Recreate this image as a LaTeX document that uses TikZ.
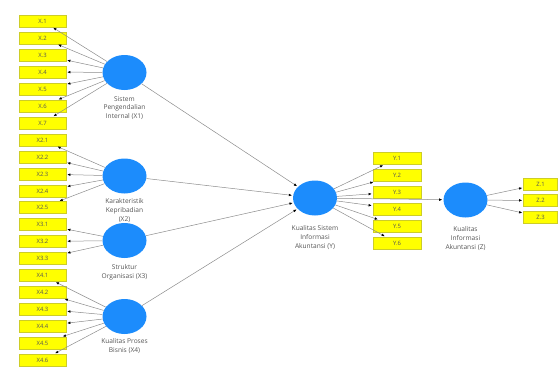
\documentclass[tikz,border=0pt]{standalone}
\usepackage{fontspec}
\setmainfont{Open Sans}
\usetikzlibrary{shapes,arrows,arrows.meta,positioning}

\definecolor{lvblue}{RGB}{28,140,252}
\definecolor{indyellow}{RGB}{255,255,0}
\definecolor{indedge}{RGB}{205,205,40}
\definecolor{txtgray}{RGB}{85,85,85}

\begin{document}
\begin{tikzpicture}[x=1pt, y=-1pt,
	lv/.style={ellipse, fill=lvblue, minimum width=44pt, minimum height=35pt, inner sep=0pt},
	ind/.style={rectangle, fill=indyellow, draw=indedge, line width=0.4pt, minimum width=47pt, minimum height=12pt, inner sep=0pt, text=txtgray, font=\fontsize{5.9}{6}\selectfont},
	lbl/.style={align=center, inner sep=1pt, text=txtgray, font=\fontsize{6.6}{8.6}\selectfont},
	conn/.style={draw=black!45, line width=0.5pt, -{Latex[length=3.2pt,width=2.6pt,color=black]}, shorten >=1pt}]
					\useasboundingbox (0,0) rectangle (558,367);
					
					% Latent variables
					\node[lv] (x1) at (124.5,72.5) {};
					\node[lv] (x2) at (124.5,176) {};
					\node[lv] (x3) at (124.5,240.5) {};
					\node[lv] (x4) at (124.5,316.5) {};
					\node[lv] (y) at (315,198) {};
					\node[lv] (z) at (465.5,200) {};
					
					% Latent variable names
					\node[lbl, below=5pt of x1] (x1name) {Sistem\\Pengendalian\\Internal (X1)};
					\node[lbl, below=4pt of x2] (x2name) {Karakteristik\\Kepribadian\\(X2)};
					\node[lbl, below=5pt of x3] (x3name) {Struktur\\Organisasi (X3)};
					\node[lbl, below=3pt of x4] (x4name) {Kualitas Proses\\Bisnis (X4)};
					\node[lbl, below=9pt of y] (yname) {Kualitas Sistem\\Informasi\\Akuntansi (Y)};
					\node[lbl, below=8pt of z] (zname) {Kualitas\\Informasi\\Akuntansi (Z)};
					
					% Indicators X1
					\node[ind] (x11) at (42.5,21) {X.1};
					\node[ind] (x12) at (42.5,38) {X.2};
					\node[ind] (x13) at (42.5,55) {X.3};
					\node[ind] (x14) at (42.5,72) {X.4};
					\node[ind] (x15) at (42.5,89) {X.5};
					\node[ind] (x16) at (42.5,106) {X.6};
					\node[ind] (x17) at (42.5,123) {X.7};
					
					% Indicators X2
					\node[ind] (x21) at (42.5,140) {X2.1};
					\node[ind] (x22) at (42.5,157) {X2.2};
					\node[ind] (x23) at (42.5,174) {X2.3};
					\node[ind] (x24) at (42.5,191) {X2.4};
					\node[ind] (x25) at (42.5,207.5) {X2.5};
					
					% Indicators X3
					\node[ind] (x31) at (42.5,224.5) {X3.1};
					\node[ind] (x32) at (42.5,241.5) {X3.2};
					\node[ind] (x33) at (42.5,258.5) {X3.3};
					
					% Indicators X4
					\node[ind] (x41) at (42.5,275.5) {X4.1};
					\node[ind] (x42) at (42.5,292.5) {X4.2};
					\node[ind] (x43) at (42.5,309) {X4.3};
					\node[ind] (x44) at (42.5,326) {X4.4};
					\node[ind] (x45) at (42.5,343) {X4.5};
					\node[ind] (x46) at (42.5,360) {X4.6};
					
					% Indicators Y
					\node[ind, minimum width=48pt] (y1) at (397,158.5) {Y.1};
					\node[ind, minimum width=48pt] (y2) at (397,175.5) {Y.2};
					\node[ind, minimum width=48pt] (y3) at (397,192) {Y.3};
					\node[ind, minimum width=48pt] (y4) at (397,209) {Y.4};
					\node[ind, minimum width=48pt] (y5) at (397,226) {Y.5};
					\node[ind, minimum width=48pt] (y6) at (397,243) {Y.6};
					
					% Indicators Z
					\node[ind, minimum width=34pt] (z1) at (540.5,184) {Z.1};
					\node[ind, minimum width=34pt] (z2) at (540.5,200.5) {Z.2};
					\node[ind, minimum width=34pt] (z3) at (540.5,217) {Z.3};
					
					% Loadings
					\draw[conn] (x1) -- (x11);
					\draw[conn] (x1) -- (x12);
					\draw[conn] (x1) -- (x13);
					\draw[conn] (x1) -- (x14);
					\draw[conn] (x1) -- (x15);
					\draw[conn] (x1) -- (x16);
					\draw[conn] (x1) -- (x17);
					\draw[conn] (x2) -- (x21);
					\draw[conn] (x2) -- (x22);
					\draw[conn] (x2) -- (x23);
					\draw[conn] (x2) -- (x24);
					\draw[conn] (x2) -- (x25);
					\draw[conn] (x3) -- (x31);
					\draw[conn] (x3) -- (x32);
					\draw[conn] (x3) -- (x33);
					\draw[conn] (x4) -- (x41);
					\draw[conn] (x4) -- (x42);
					\draw[conn] (x4) -- (x43);
					\draw[conn] (x4) -- (x44);
					\draw[conn] (x4) -- (x45);
					\draw[conn] (x4) -- (x46);
					\draw[conn] (y) -- (y1);
					\draw[conn] (y) -- (y2);
					\draw[conn] (y) -- (y3);
					\draw[conn] (y) -- (y4);
					\draw[conn] (y) -- (y5);
					\draw[conn] (y) -- (y6);
					\draw[conn] (z) -- (z1);
					\draw[conn] (z) -- (z2);
					\draw[conn] (z) -- (z3);
					
					% Paths
					\draw[conn] (x1) -- (y);
					\draw[conn] (x2) -- (y);
					\draw[conn] (x3) -- (y);
					\draw[conn] (x4) -- (y);
					\draw[conn] (y) -- (z);
					
				\end{tikzpicture}
\end{document}
